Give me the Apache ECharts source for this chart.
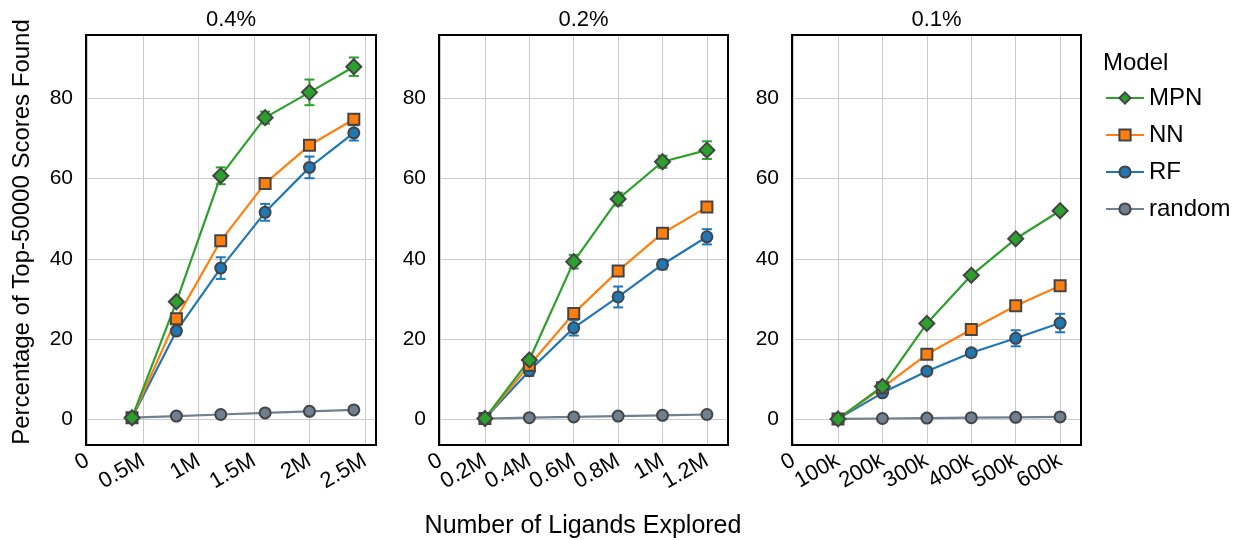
<!DOCTYPE html>
<html>
<head>
<meta charset="utf-8">
<title>Top-50000 scores found vs ligands explored</title>
<script src="https://cdn.jsdelivr.net/npm/echarts@6/dist/echarts.min.js"></script>
<style>
  html, body { margin: 0; padding: 0; background: #ffffff; }
  #chart { width: 1238px; height: 540px; }
</style>
</head>
<body>
<div id="chart"></div>
<script>
// ---- data ----
const models = ['MPN', 'NN', 'RF', 'random'];
const panelTitles = ['0.4%', '0.2%', '0.1%'];

// ligands explored after each iteration
const x04 = [400000, 800000, 1200000, 1600000, 2000000, 2400000];
const x02 = [200000, 400000, 600000, 800000, 1000000, 1200000];
const x01 = [100000, 200000, 300000, 400000, 500000, 600000];

// 0.4% batches: mean percentage found and error
const mpn04 = [0.4, 29.3, 60.7, 75.2, 81.5, 87.9];
const mpn04Err = [0, 0.8, 2.1, 1.5, 3.2, 2.3];
const nn04 = [0.4, 25.1, 44.5, 58.8, 68.3, 74.8];
const nn04Err = [0, 0.8, 0.9, 0.8, 0.9, 1.3];
const rf04 = [0.4, 22.0, 37.7, 51.6, 62.8, 71.4];
const rf04Err = [0, 0.8, 2.7, 2.1, 2.7, 1.9];
const random04 = [0.4, 0.8, 1.2, 1.6, 2.0, 2.35];

// 0.2% batches
const mpn02 = [0.2, 14.8, 39.3, 54.9, 64.2, 67.1];
const mpn02Err = [0, 0.8, 1.7, 1.6, 1.5, 2.2];
const nn02 = [0.2, 13.5, 26.4, 37.0, 46.4, 52.9];
const nn02Err = [0, 0.6, 0.8, 0.7, 0.8, 0.7];
const rf02 = [0.2, 12.1, 22.8, 30.5, 38.6, 45.5];
const rf02Err = [0, 1.3, 1.9, 2.6, 1.2, 1.9];
const random02 = [0.2, 0.4, 0.6, 0.8, 1.0, 1.2];

// 0.1% batches
const mpn01 = [0.1, 8.2, 23.9, 35.9, 45.0, 52.0];
const mpn01Err = [0, 0.5, 0.6, 0.8, 0.7, 0.6];
const nn01 = [0.1, 7.9, 16.2, 22.4, 28.3, 33.3];
const nn01Err = [0, 0.5, 0.6, 0.7, 0.8, 0.7];
const rf01 = [0.1, 6.6, 12.0, 16.6, 20.2, 24.0];
const rf01Err = [0, 0.6, 0.8, 0.9, 2.0, 2.3];
const random01 = [0.1, 0.2, 0.3, 0.4, 0.5, 0.6];

// tick labels
const xTicks04 = [0, 500000, 1000000, 1500000, 2000000, 2500000];
const xTickLabels04 = ['0', '0.5M', '1M', '1.5M', '2M', '2.5M'];
const xTicks02 = [0, 200000, 400000, 600000, 800000, 1000000, 1200000];
const xTickLabels02 = ['0', '0.2M', '0.4M', '0.6M', '0.8M', '1M', '1.2M'];
const xTicks01 = [0, 100000, 200000, 300000, 400000, 500000, 600000];
const xTickLabels01 = ['0', '100k', '200k', '300k', '400k', '500k', '600k'];
const yTicks = [0, 20, 40, 60, 80];

// ---- styling ----
const FONT = '"Liberation Sans", Arial, Helvetica, sans-serif';
const colors = { MPN: '#2ca02c', NN: '#ff7f0e', RF: '#1f77b4', random: '#708090' };
const symbols = { MPN: 'diamond', NN: 'rect', RF: 'circle', random: 'circle' };
const symbolSizes = { MPN: 15, NN: 11, RF: 11, random: 11 };
const GRID_COLOR = '#c8cad0';

const panels = [
  { x: x04, series: { MPN: [mpn04, mpn04Err], NN: [nn04, nn04Err], RF: [rf04, rf04Err], random: [random04, null] },
    ticks: xTicks04, labels: xTickLabels04, min: -15000, max: 2600000, step: 500000, left: 86, width: 290 },
  { x: x02, series: { MPN: [mpn02, mpn02Err], NN: [nn02, nn02Err], RF: [rf02, rf02Err], random: [random02, null] },
    ticks: xTicks02, labels: xTickLabels02, min: -7000, max: 1295000, step: 200000, left: 439, width: 289 },
  { x: x01, series: { MPN: [mpn01, mpn01Err], NN: [nn01, nn01Err], RF: [rf01, rf01Err], random: [random01, null] },
    ticks: xTicks01, labels: xTickLabels01, min: -3600, max: 647000, step: 100000, left: 792, width: 289 }
];

const GRID_TOP = 35, GRID_HEIGHT = 410;

function tickFormatter(ticks, labels) {
  return function (v) {
    for (let i = 0; i < ticks.length; i++) {
      if (Math.abs(v - ticks[i]) < 1e-6 * Math.max(1, Math.abs(ticks[i]))) return labels[i];
    }
    return '';
  };
}

function renderErrorBar(params, api) {
  const x = api.value(0);
  const top = api.coord([x, api.value(2)]);
  const bot = api.coord([x, api.value(1)]);
  const half = 5;
  const style = { stroke: api.visual('color'), lineWidth: 2 };
  return {
    type: 'group',
    children: [
      { type: 'line', shape: { x1: top[0], y1: top[1], x2: bot[0], y2: bot[1] }, style: style },
      { type: 'line', shape: { x1: top[0] - half, y1: top[1], x2: top[0] + half, y2: top[1] }, style: style },
      { type: 'line', shape: { x1: bot[0] - half, y1: bot[1], x2: bot[0] + half, y2: bot[1] }, style: style }
    ]
  };
}

const grid = [], xAxis = [], yAxis = [], series = [], graphic = [];

panels.forEach(function (p, i) {
  grid.push({
    left: p.left, top: GRID_TOP, width: p.width, height: GRID_HEIGHT,
    show: true, borderWidth: 0, backgroundColor: '#ffffff'
  });
  xAxis.push({
    type: 'value', gridIndex: i, min: p.min, max: p.max,
    minInterval: p.step, maxInterval: p.step,
    axisLine: { show: false }, axisTick: { show: false },
    splitLine: { show: true, lineStyle: { color: GRID_COLOR, width: 1 } },
    axisLabel: {
      rotate: 30, margin: 14, fontSize: 22, color: '#000000', fontFamily: FONT,
      formatter: tickFormatter(p.ticks, p.labels)
    }
  });
  yAxis.push({
    type: 'value', gridIndex: i, min: -6.4, max: 95.8,
    minInterval: 20, maxInterval: 20,
    axisLine: { show: false }, axisTick: { show: false },
    splitLine: { show: true, lineStyle: { color: GRID_COLOR, width: 1 } },
    axisLabel: {
      margin: 13, fontSize: 21, color: '#000000', fontFamily: FONT,
      formatter: tickFormatter(yTicks, yTicks.map(String))
    }
  });

  // error bars underneath the markers
  models.forEach(function (m) {
    const ys = p.series[m][0], errs = p.series[m][1];
    if (!errs) return;
    series.push({
      type: 'custom', xAxisIndex: i, yAxisIndex: i, z: 2,
      itemStyle: { color: colors[m] },
      renderItem: renderErrorBar,
      encode: { x: 0, y: [1, 2] },
      data: p.x.map(function (x, k) { return [x, ys[k] - errs[k], ys[k] + errs[k]]; }),
      silent: true, animation: false
    });
  });

  // lines with markers, drawn bottom to top: random, RF, NN, MPN
  models.slice().reverse().forEach(function (m) {
    const ys = p.series[m][0];
    series.push({
      type: 'line', name: m, xAxisIndex: i, yAxisIndex: i, z: 3,
      data: p.x.map(function (x, k) { return [x, ys[k]]; }),
      symbol: symbols[m], symbolSize: symbolSizes[m], showSymbol: true,
      lineStyle: { color: colors[m], width: 2.2 },
      itemStyle: { color: colors[m], borderColor: '#444444', borderWidth: 2 },
      emphasis: { disabled: true },
      animation: false
    });
  });

  // black frame around the plot area
  graphic.push({
    type: 'rect', z: 100, silent: true,
    shape: { x: p.left, y: GRID_TOP, width: p.width, height: GRID_HEIGHT },
    style: { fill: null, stroke: '#000000', lineWidth: 2 }
  });
  graphic.push({
    type: 'text', x: p.left + p.width / 2, y: 20,
    style: { text: panelTitles[i], fontSize: 22, fontFamily: FONT, fill: '#000000', align: 'center', verticalAlign: 'middle' }
  });
});

// axis titles and legend title
graphic.push({
  type: 'text', x: 22, y: 232, rotation: Math.PI / 2,
  style: { text: 'Percentage of Top-50000 Scores Found', fontSize: 24, fontFamily: FONT, fill: '#000000', align: 'center', verticalAlign: 'middle' }
});
graphic.push({
  type: 'text', x: 583, y: 526,
  style: { text: 'Number of Ligands Explored', fontSize: 25, fontFamily: FONT, fill: '#000000', align: 'center', verticalAlign: 'middle' }
});
graphic.push({
  type: 'text', x: 1103, y: 63,
  style: { text: 'Model', fontSize: 24, fontFamily: FONT, fill: '#000000', align: 'left', verticalAlign: 'middle' }
});

const chart = echarts.init(document.getElementById('chart'), null, { renderer: 'canvas' });
chart.setOption({
  backgroundColor: '#ffffff',
  animation: false,
  grid: grid,
  xAxis: xAxis,
  yAxis: yAxis,
  legend: {
    data: models, orient: 'vertical', left: 1105, top: 86, padding: 0,
    itemWidth: 38, itemHeight: 14, itemGap: 13,
    textStyle: { fontSize: 24, fontFamily: FONT, color: '#000000' },
    selectedMode: false
  },
  graphic: graphic,
  series: series
});
</script>
</body>
</html>
